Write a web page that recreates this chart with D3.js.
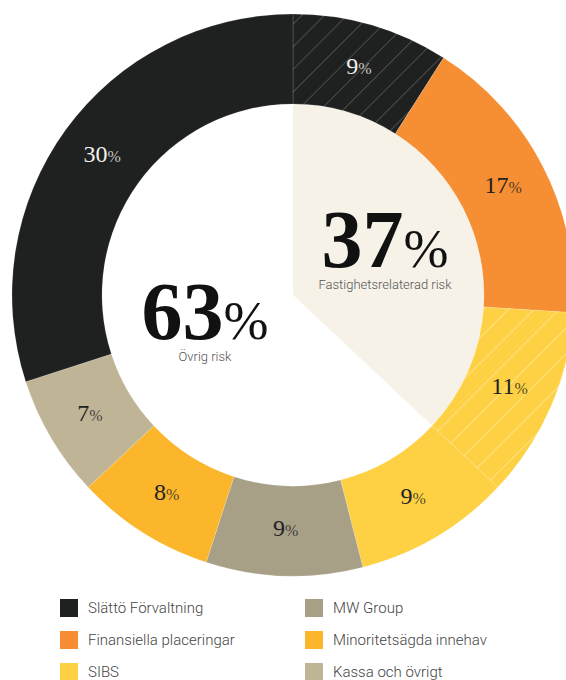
<!DOCTYPE html>
<html>
<head>
<meta charset="utf-8">
<script src="https://cdn.jsdelivr.net/npm/d3@7"></script>
<style>
  body { margin: 0; background: #fff; }
  svg { display: block; }
</style>
</head>
<body>
<div id="chart"></div>
<script>
// legend categories and their colours
const categories = ["Slättö Förvaltning", "Finansiella placeringar", "SIBS", "MW Group", "Minoritetsägda innehav", "Kassa och övrigt"];
const categoryColors = ["#1f2020", "#f68e33", "#fed144", "#a89f87", "#fbb62b", "#bfb496"];

// ring slices, clockwise from 12 o'clock
const sliceCategory = ["Slättö Förvaltning", "Finansiella placeringar", "SIBS", "SIBS", "MW Group", "Minoritetsägda innehav", "Kassa och övrigt", "Slättö Förvaltning"];
const sliceValues = [9, 17, 11, 9, 9, 8, 7, 30];
const slicePropertyRisk = [true, false, true, false, false, false, false, false]; // hatched parts

// centre split
const riskLabels = ["Fastighetsrelaterad risk", "Övrig risk"];
const riskValues = [37, 63];

const width = 566, height = 680;
const cx = 293, cy = 295;
const outerR = 281, innerR = 191;

const svg = d3.select("#chart").append("svg")
    .attr("width", width)
    .attr("height", height);

const color = d3.scaleOrdinal().domain(categories).range(categoryColors);

// hatch patterns
const defs = svg.append("defs");
function hatch(id, bg, line, size) {
    const p = defs.append("pattern")
        .attr("id", id)
        .attr("patternUnits", "userSpaceOnUse")
        .attr("width", size)
        .attr("height", size)
        .attr("patternTransform", "rotate(45)");
    p.append("rect").attr("width", size).attr("height", size).attr("fill", bg);
    p.append("line")
        .attr("x1", 0).attr("y1", 0).attr("x2", 0).attr("y2", size)
        .attr("stroke", line).attr("stroke-width", 1.4);
}
hatch("hatch-0", categoryColors[0], "#5c5d5d", 16);
hatch("hatch-2", categoryColors[2], "#feeaa6", 18);

const slices = sliceValues.map((v, i) => ({ value: v, cat: sliceCategory[i], hatched: slicePropertyRisk[i] }));

const pie = d3.pie().value(d => d.value).sort(null);
const arcs = pie(slices);

const arc = d3.arc().innerRadius(innerR).outerRadius(outerR);
const labelArc = d3.arc().innerRadius(236).outerRadius(236);

const g = svg.append("g").attr("transform", `translate(${cx},${cy})`);

// centre sector for property-related risk
const total = d3.sum(riskValues);
g.append("path")
    .attr("d", d3.arc()({ innerRadius: 0, outerRadius: innerR, startAngle: 0, endAngle: 2 * Math.PI * riskValues[0] / total }))
    .attr("fill", "#f6f2e8");

g.selectAll("path.slice")
    .data(arcs)
    .join("path")
    .attr("class", "slice")
    .attr("d", arc)
    .attr("fill", d => d.data.hatched ? `url(#hatch-${categories.indexOf(d.data.cat)})` : color(d.data.cat))
    .attr("stroke", "rgba(255,255,255,0.25)")
    .attr("stroke-width", 0.6);

// slice labels
const lbl = g.selectAll("text.slice-label")
    .data(arcs)
    .join("text")
    .attr("class", "slice-label")
    .attr("transform", d => `translate(${labelArc.centroid(d)})`)
    .attr("text-anchor", "middle")
    .attr("dy", "0.35em")
    .attr("font-family", "'Liberation Serif', 'DejaVu Serif', serif")
    .attr("fill", d => d.data.cat === categories[0] ? "#f2f0ea" : "#222");
lbl.append("tspan").attr("font-size", 24).text(d => d.data.value);
lbl.append("tspan").attr("font-size", 16).attr("fill-opacity", 0.8).text("%");

// big centre numbers
function bigNumber(x, y, value, label) {
    const t = svg.append("text")
        .attr("x", x).attr("y", y)
        .attr("text-anchor", "middle")
        .attr("font-family", "'Liberation Serif', 'DejaVu Serif', serif")
        .attr("fill", "#111");
    t.append("tspan").attr("font-size", 82).attr("font-weight", "bold").text(value);
    t.append("tspan").attr("font-size", 54).text("%");
    svg.append("text")
        .attr("x", x).attr("y", y + 22)
        .attr("text-anchor", "middle")
        .attr("font-family", "Roboto, 'Open Sans', sans-serif")
        .attr("font-weight", 300)
        .attr("font-size", 13)
        .attr("fill", "#555")
        .text(label);
}
bigNumber(385, 267, riskValues[0], riskLabels[0]);
bigNumber(205, 339, riskValues[1], riskLabels[1]);

// legend
const legend = svg.append("g")
    .selectAll("g")
    .data(categories)
    .join("g")
    .attr("transform", (d, i) => `translate(${60 + Math.floor(i / 3) * 245},${599 + (i % 3) * 32})`);

legend.append("rect")
    .attr("width", 18).attr("height", 18)
    .attr("fill", d => color(d));

legend.append("text")
    .attr("x", 28).attr("y", 9)
    .attr("dy", "0.35em")
    .attr("font-family", "Roboto, 'Open Sans', sans-serif")
    .attr("font-weight", 300)
    .attr("font-size", 15)
    .attr("fill", "#444")
    .text(d => d);
</script>
</body>
</html>
